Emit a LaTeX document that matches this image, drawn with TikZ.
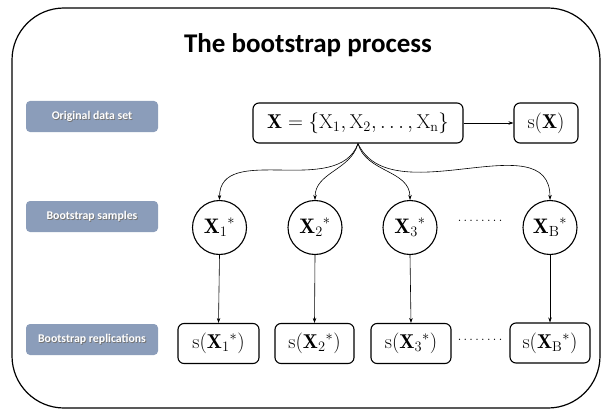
\documentclass[tikz,border=0pt]{standalone}
\usepackage{fontspec}
\setsansfont{Carlito}
\usetikzlibrary{arrows.meta}
\definecolor{labcol}{HTML}{8B9DBA}
\newcommand\shtext[1]{\makebox[0pt][l]{\raisebox{-0.8pt}{\hspace{0.8pt}\textcolor{black!55}{#1}}}#1}
\newcommand\mydots{\hbox to 45pt{.\hfil.\hfil.\hfil.\hfil.\hfil.\hfil.\hfil.}}
\begin{document}
\begin{tikzpicture}[x=1pt,y=-1pt,
  lab/.style={fill=labcol, rounded corners=4pt, minimum width=132pt, minimum height=31pt, inner sep=0pt,
    text=white, font=\sffamily\bfseries\fontsize{11.8}{13}\selectfont},
  mbox/.style={draw, line width=1.1pt, rounded corners=6pt, minimum height=40pt, inner sep=0pt,
    font=\fontsize{20}{24}\selectfont},
  circ/.style={draw, circle, line width=1.1pt, minimum size=54pt, inner sep=0pt,
    font=\fontsize{21}{24}\selectfont},
  arr/.style={-{Stealth[length=5pt,width=3.5pt]}, line width=0.6pt},
  dotsn/.style={font=\fontsize{16}{18}\selectfont, inner sep=0pt}
]
\useasboundingbox (0,0) rectangle (604,409);
\draw[line width=1.2pt, rounded corners=52pt] (12,8) rectangle (600,408);
\node[font=\sffamily\bfseries\fontsize{27}{30}\selectfont] (title) at (308,45) {The bootstrap process};

\node[lab] (l1) at (92,116.5) {\shtext{Original data set}};
\node[lab] (l2) at (92,216.5) {\shtext{Bootstrap samples}};
\node[lab] (l3) at (92,339.5) {\shtext{Bootstrap replications}};

\node[mbox, minimum width=210pt] (X) at (358,123) {$\mathbf{X}=\{\mathrm{X}_1,\mathrm{X}_2,\dots,\mathrm{X}_{\mathrm{n}}\}$};
\node[mbox, minimum width=64pt] (sX) at (546,123) {$\mathrm{s}\bigl(\mathbf{X}\bigr)$};

\node[circ] (c1) at (219.5,227.5) {${\mathbf{X}_1}^{*}$};
\node[circ] (c2) at (315,227.5) {${\mathbf{X}_2}^{*}$};
\node[circ] (c3) at (410,227.5) {${\mathbf{X}_3}^{*}$};
\node[circ] (cB) at (550,227.5) {${\mathbf{X}_{\mathrm{B}}}^{*}$};
\node[dotsn] (d1) at (480,221) {\mydots};

\node[mbox, minimum width=81pt] (s1) at (218.5,343.5) {$\mathrm{s}\bigl({\mathbf{X}_1}^{*}\bigr)$};
\node[mbox, minimum width=79pt] (s2) at (314.5,343.5) {$\mathrm{s}\bigl({\mathbf{X}_2}^{*}\bigr)$};
\node[mbox, minimum width=80pt] (s3) at (411,343.5) {$\mathrm{s}\bigl({\mathbf{X}_3}^{*}\bigr)$};
\node[mbox, minimum width=80pt] (sB) at (550,343) {$\mathrm{s}\bigl({\mathbf{X}_{\mathrm{B}}}^{*}\bigr)$};
\node[dotsn] (d2) at (480,340) {\mydots};

\draw[arr] (X.east) -- (sX.west);
\draw[arr] (X.south) to[out=-110,in=90] (c1.north);
\draw[arr] (X.south) to[out=-105,in=90] (c2.north);
\draw[arr] (X.south) to[out=-75,in=90] (c3.north);
\draw[arr] (X.south) to[out=-65,in=90] (cB.north);
\draw[arr] (c1.south) -- (s1.north);
\draw[arr] (c2.south) -- (s2.north);
\draw[arr] (c3.south) -- (s3.north);
\draw[arr] (cB.south) -- (sB.north);
\end{tikzpicture}
\end{document}
